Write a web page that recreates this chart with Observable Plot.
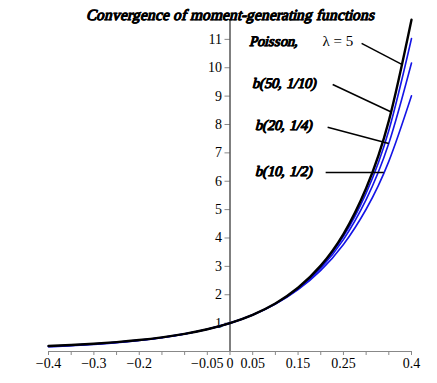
<!DOCTYPE html>
<html><head><meta charset="utf-8">
<script src="https://cdn.jsdelivr.net/npm/d3@7"></script>
<script src="https://cdn.jsdelivr.net/npm/@observablehq/plot@0.6"></script>
<style>
@font-face { font-family: "FauxSerif"; src: local("Liberation Serif"), local("LiberationSerif"), local("Liberation Serif Regular"); font-weight: normal; font-style: normal; }
body{margin:0;background:#fff}
svg text{font-family:"Liberation Serif",serif;}
svg text.bi, svg .bi text{font-family:"FauxSerif","Liberation Serif",serif;}
</style>
</head><body><div id="chart"></div>
<script>
const t = [-0.4,-0.35,-0.3,-0.25,-0.2,-0.15,-0.1,-0.05,0,0.05,0.1,0.15,0.2,0.25,0.3,0.35,0.4];
const poisson = [0.1924,0.2284,0.2737,0.3309,0.4030,0.4983,0.6214,0.7836,1,1.2922,1.6919,2.2460,3.0253,4.1376,5.7506,8.1282,11.6946];
const b50 = [0.1871,0.2234,0.2690,0.3268,0.3997,0.4959,0.6200,0.7831,1,1.2914,1.6873,2.2315,2.9890,4.0565,5.5811,7.7883,11.0294];
const b20 = [0.1790,0.2157,0.2619,0.3205,0.3946,0.4922,0.6178,0.7824,1,1.2901,1.6805,2.2086,2.9372,3.9431,5.3494,7.3353,10.1688];
const b10 = [0.1651,0.2024,0.2496,0.3097,0.3867,0.4858,0.6142,0.7812,1,1.2880,1.6694,2.1773,2.8574,3.7731,5.0132,6.7016,9.0132];
const xTicks = [-0.4,-0.35,-0.3,-0.25,-0.2,-0.15,-0.1,-0.05,0,0.05,0.1,0.15,0.2,0.25,0.3,0.35,0.4];
const xLabels = {"-0.4":"−0.4","-0.3":"−0.3","-0.2":"−0.2","-0.05":"−0.05","0":"0","0.05":"0.05","0.15":"0.15","0.25":"0.25","0.4":"0.4"};
const yTicks = [1,2,3,4,5,6,7,8,9,10,11];
const title = "Convergence of moment-generating functions";
// annotation labels (data coords)
const labels = [
  {text:"Poisson,", x:0.041, y:10.93},
  {text:"b(50, 1/10)", x:0.0475, y:9.45},
  {text:"b(20, 1/4)", x:0.054, y:7.97},
  {text:"b(10, 1/2)", x:0.054, y:6.35}
];
const lambdaLabel = [{text:"λ = 5", x:0.204, y:10.93}];
const leaders = [
  {x1:0.290, y1:10.86, x2:0.3786, y2:10.12},
  {x1:0.2263, y1:9.41, x2:0.3565, y2:8.43},
  {x1:0.2152, y1:7.90, x2:0.3499, y2:7.33},
  {x1:0.2108, y1:6.31, x2:0.3389, y2:6.31}
];

const mk = arr => t.map((x,i)=>({x, y:arr[i]}));
const blue = "#1414e6";

const plot = Plot.plot({
  width: 437, height: 383,
  marginLeft: 48, marginRight: 26, marginTop: 19, marginBottom: 32,
  x: {domain: [-0.4, 0.4], axis: null},
  y: {domain: [0, 11.7], axis: null},
  style: {background: "#fff"},
  marks: [
    Plot.axisX(xTicks, {anchor: "bottom", tickSize: 4, tickPadding: 3, stroke: "#888", fill: "#000",
      fontSize: 14, tickFormat: d => xLabels[String(+d.toFixed(2))] ?? ""}),
    Plot.ruleY([0], {x1: -0.4, x2: 0.4, stroke: "#888"}),
    Plot.ruleY(yTicks, {x1: 0, x2: 0, insetLeft: -5, stroke: "#888"}),
    Plot.text(yTicks, {x: 0, y: d => d, text: d => String(d), dx: -8, textAnchor: "end", fontSize: 14, fill: "#000"}),
    Plot.ruleX([0], {y1: 0, y2: 11.7, stroke: "#000"}),
    Plot.line(mk(b10), {x: "x", y: "y", stroke: blue, strokeWidth: 1.6, curve: "natural"}),
    Plot.line(mk(b20), {x: "x", y: "y", stroke: blue, strokeWidth: 1.6, curve: "natural"}),
    Plot.line(mk(b50), {x: "x", y: "y", stroke: blue, strokeWidth: 1.6, curve: "natural"}),
    Plot.line(mk(poisson), {x: "x", y: "y", stroke: "#000", strokeWidth: 2.4, curve: "natural"}),
    Plot.link(leaders, {x1: "x1", y1: "y1", x2: "x2", y2: "y2", stroke: "#000", strokeWidth: 1.5}),
    Plot.text(labels, {x: "x", y: "y", text: "text", textAnchor: "start", fontSize: 14.5, fontWeight: "bold", fontStyle: "italic", fill: "#000", stroke: "#000", strokeWidth: 0.35, className: "bi"}),
    Plot.text(lambdaLabel, {x: "x", y: "y", text: "text", textAnchor: "start", fontSize: 15, fill: "#000"}),
    Plot.text([title], {frameAnchor: "top", dy: -10, text: d => d, fontSize: 15.4, fontWeight: "bold", fontStyle: "italic", fill: "#000", stroke: "#000", strokeWidth: 0.35, className: "bi"})
  ]
});
document.getElementById("chart").appendChild(plot);
</script>
</body></html>
